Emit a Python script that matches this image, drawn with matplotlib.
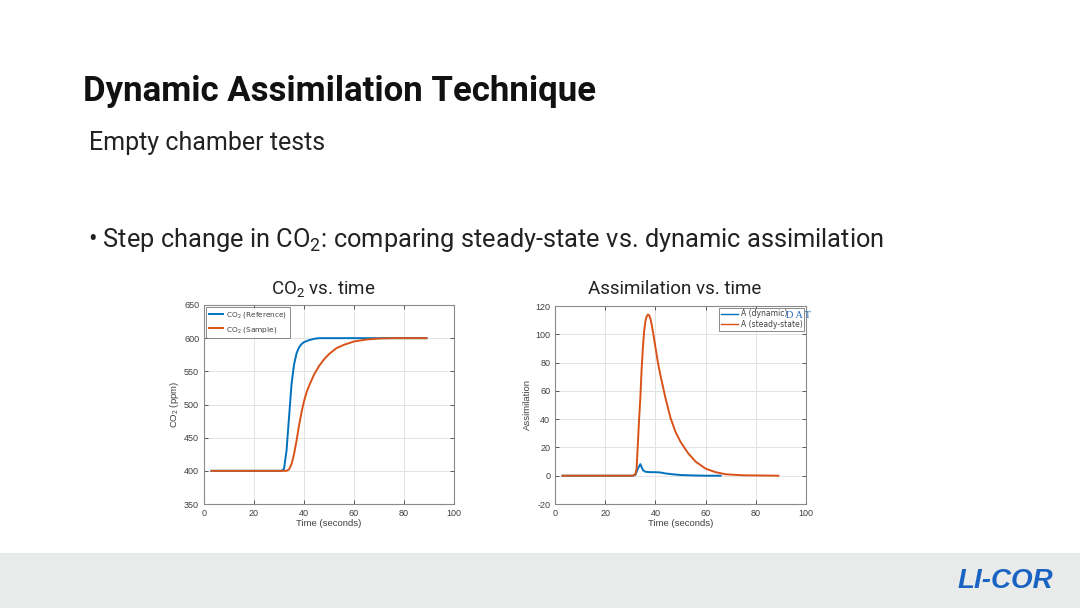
import matplotlib
matplotlib.use("Agg")
import matplotlib.pyplot as plt
from matplotlib.patches import Rectangle

plt.rcParams['mathtext.fontset'] = 'custom'
plt.rcParams['mathtext.rm'] = 'Roboto'
plt.rcParams['mathtext.it'] = 'Roboto:italic'
plt.rcParams['mathtext.bf'] = 'Roboto:bold'
plt.rcParams['axes.unicode_minus'] = False

# ---------------- data ----------------
t_ref = [3, 10, 20, 31, 32, 33, 34, 35, 36, 37, 38, 39, 40, 42, 44, 46, 50, 60, 70, 80, 89]
co2_ref = [400, 400, 400, 400, 403, 430, 480, 530, 560, 577, 586, 591, 594, 597, 599, 600, 600, 600, 600, 600, 600]

t_sam = [3, 10, 20, 33, 34, 35, 36, 37, 38, 39, 40, 41, 42, 44, 46, 48, 50, 53, 56, 60, 65, 70, 75, 80, 89]
co2_sam = [400, 400, 400, 400, 402, 410, 425, 445, 468, 488, 505, 518, 528, 545, 558, 568, 576, 585, 590, 595, 598, 599.5, 600, 600, 600]

t_ss = [3, 10, 20, 31, 32, 32.5, 33, 33.5, 34, 34.5, 35, 35.5, 36, 36.5, 37, 37.5, 38, 38.5, 39, 40, 41, 42,
        44, 46, 48, 50, 53, 56, 60, 64, 68, 75, 89]
a_ss = [0, 0, 0, 0, 1, 5, 22, 40, 55, 75, 90, 102, 109, 112.5, 114, 113.5, 111, 107, 102, 91, 80, 71,
        55, 41, 31, 24, 16, 10, 5, 2.5, 1, 0.3, 0]

t_dyn = [3, 10, 20, 31, 32, 33, 34, 35, 36, 38, 40, 42, 44, 46, 48, 50, 55, 60, 66]
a_dyn = [0, 0, 0, 0, 0.5, 5, 8.2, 4, 2.8, 2.5, 2.5, 2.3, 1.6, 1.2, 0.8, 0.5, 0.2, 0, 0]

co2_yticks = [350, 400, 450, 500, 550, 600, 650]
a_yticks = [-20, 0, 20, 40, 60, 80, 100, 120]
xticks = [0, 20, 40, 60, 80, 100]

BLUE = '#0072BD'
ORANGE = '#D95319'
AXC = '#404040'

fig = plt.figure(figsize=(10.8, 6.08), dpi=100)
fig.patch.set_facecolor('white')

# bottom band
fig.patches.append(Rectangle((0, 0), 1, 55 / 608, transform=fig.transFigure,
                             facecolor='#e8ebea', edgecolor='none', zorder=0))

# slide texts
fig.text(83 / 1080, 1 - 91 / 608, "Dynamic Assimilation Technique", fontsize=25,
         fontweight='bold', family='Roboto', va='center', ha='left', color='#111111')
fig.text(89 / 1080, 1 - 143 / 608, "Empty chamber tests", fontsize=18,
         family='Roboto', fontweight='normal', va='center', ha='left', color='#222222')
fig.text(88 / 1080, 1 - 240 / 608, r"• Step change in CO$_2$: comparing steady-state vs. dynamic assimilation",
         fontsize=18.3, family='Roboto', fontweight='normal', va='center', ha='left', color='#222222')

fig.text(323 / 1080, 1 - 289 / 608, r"CO$_2$ vs. time", fontsize=13.5, family='Roboto',
         va='center', ha='center', color='#222222')
fig.text(675 / 1080, 1 - 289 / 608, "Assimilation vs. time", fontsize=13.5, family='Roboto',
         va='center', ha='center', color='#222222')

# LI-COR logo
fig.text(1005 / 1080, 1 - 581 / 608, "LI-COR", fontsize=20, fontweight='heavy', fontstyle='italic',
         family='Liberation Sans', va='center', ha='center', color='#1a63c2')


def style_axes(ax):
    for s in ax.spines.values():
        s.set_color('#8a8a8a')
        s.set_linewidth(0.8)
    ax.tick_params(labelsize=6.5, colors=AXC, length=3, width=0.6, direction='in',
                   top=True, right=True)
    for lab in ax.get_xticklabels() + ax.get_yticklabels():
        lab.set_family('Liberation Sans')
    ax.grid(True, color='#e3e3e3', linewidth=0.7)
    ax.set_axisbelow(True)


# left chart
ax1 = fig.add_axes([204 / 1080, 1 - 504 / 608, 250 / 1080, 199 / 608])
ax1.plot(t_ref, co2_ref, color=BLUE, lw=1.4, label=r"CO$_2$ (Reference)")
ax1.plot(t_sam, co2_sam, color=ORANGE, lw=1.4, label=r"CO$_2$ (Sample)")
ax1.set_xlim(0, 100)
ax1.set_ylim(350, 650)
ax1.set_xticks(xticks)
ax1.set_yticks(co2_yticks)
style_axes(ax1)
ax1.set_xlabel("Time (seconds)", fontsize=6.8, color=AXC, family='Liberation Sans', labelpad=1)
ax1.set_ylabel(r"CO$_2$ (ppm)", fontsize=6.8, color=AXC, family='Liberation Sans', labelpad=2)
leg1 = ax1.legend(loc='upper left', fontsize=5.3, frameon=True, fancybox=False,
                  borderpad=0.4, handlelength=1.9, handletextpad=0.4, labelspacing=0.6,
                  borderaxespad=0.3)
leg1.get_frame().set_edgecolor('#555555')
leg1.get_frame().set_linewidth(0.6)
for tx in leg1.get_texts():
    tx.set_color(AXC)

# right chart
ax2 = fig.add_axes([555 / 1080, 1 - 504 / 608, 251 / 1080, 198 / 608])
ax2.plot(t_dyn, a_dyn, color=BLUE, lw=1.4, label="A (dynamic)")
ax2.plot(t_ss, a_ss, color=ORANGE, lw=1.4, label="A (steady-state)")
ax2.set_xlim(0, 100)
ax2.set_ylim(-20, 120)
ax2.set_xticks(xticks)
ax2.set_yticks(a_yticks)
style_axes(ax2)
ax2.set_xlabel("Time (seconds)", fontsize=6.8, color=AXC, family='Liberation Sans', labelpad=1)
ax2.set_ylabel("Assimilation", fontsize=6.8, color=AXC, family='Liberation Sans', labelpad=2)
leg2 = ax2.legend(loc='upper right', fontsize=5.5, frameon=True, fancybox=False,
                  borderpad=0.25, handlelength=2.2, handletextpad=0.4, labelspacing=0.2,
                  borderaxespad=0.2)
leg2.get_frame().set_edgecolor('#555555')
leg2.get_frame().set_linewidth(0.6)
for tx in leg2.get_texts():
    tx.set_color(AXC)
for ln in leg2.get_lines():
    ln.set_linewidth(1.0)
fig.text(798 / 1080, 1 - 315 / 608, "D A T", fontsize=7.5, family='Liberation Serif',
         color='#2a6bc0', va='center', ha='center')

fig.savefig("out.png", dpi=100)
